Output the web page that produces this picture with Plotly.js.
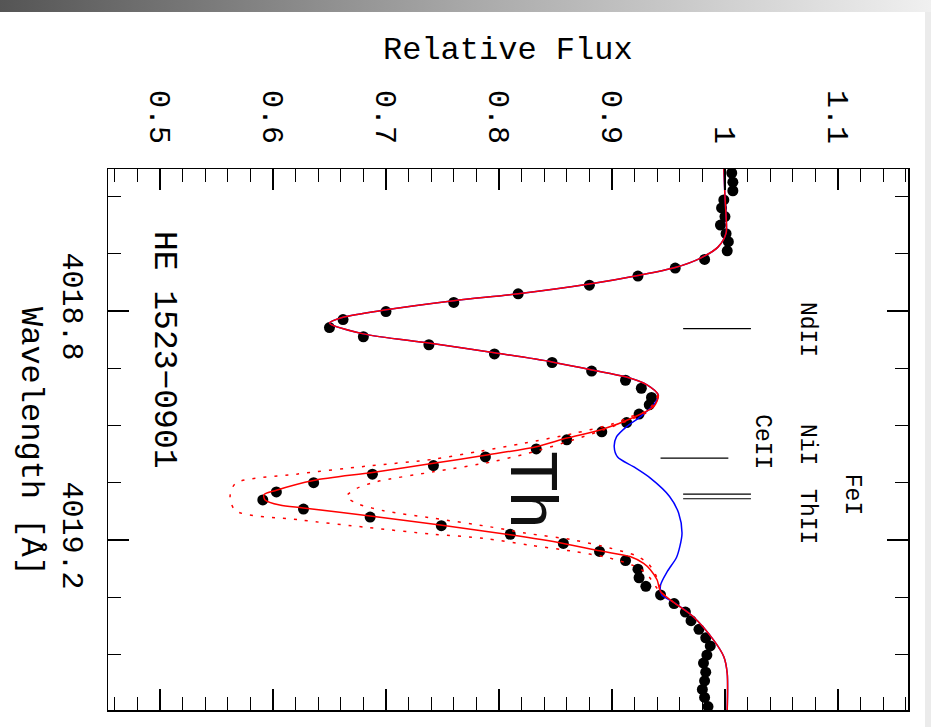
<!DOCTYPE html>
<html>
<head>
<meta charset="utf-8">
<script src="https://cdn.plot.ly/plotly-3.0.1.min.js"></script>
<style>
  html, body { margin: 0; padding: 0; background: #fff; }
  #chart { width: 931px; height: 727px; }
</style>
</head>
<body>
<div id="chart"></div>
<script>
// Observed spectrum of HE 1523-0901 around the Th II 4019 line
const obsWave = [4018.559, 4018.575, 4018.590, 4018.606, 4018.620, 4018.635, 4018.650, 4018.665, 4018.679, 4018.695,
  4018.710, 4018.725, 4018.739, 4018.755, 4018.770, 4018.785, 4018.801, 4018.815, 4018.829, 4018.845,
  4018.859, 4018.875, 4018.890, 4018.905, 4018.921, 4018.935, 4018.951, 4018.964, 4018.980, 4018.995,
  4019.011, 4019.025, 4019.041, 4019.055, 4019.070, 4019.085, 4019.100, 4019.116, 4019.130, 4019.146,
  4019.160, 4019.175, 4019.190, 4019.206, 4019.220, 4019.236, 4019.251, 4019.266, 4019.281, 4019.296,
  4019.311, 4019.326, 4019.341, 4019.356, 4019.371, 4019.385, 4019.401, 4019.415, 4019.431, 4019.446,
  4019.461, 4019.475, 4019.491];
const obsFlux = [1.006, 1.007, 1.007, 0.999, 0.997, 1.000, 0.996, 1.001, 1.003, 1.002,
  0.982, 0.956, 0.923, 0.880, 0.817, 0.760, 0.700, 0.662, 0.650, 0.680,
  0.738, 0.796, 0.847, 0.882, 0.912, 0.926, 0.935, 0.933, 0.924, 0.913,
  0.891, 0.860, 0.833, 0.788, 0.742, 0.688, 0.636, 0.603, 0.591, 0.627,
  0.686, 0.749, 0.810, 0.857, 0.889, 0.912, 0.923, 0.924, 0.930, 0.943,
  0.955, 0.965, 0.970, 0.977, 0.983, 0.987, 0.984, 0.981, 0.983, 0.982,
  0.980, 0.982, 0.985];

// Best-fit synthetic spectrum
const fitWave = [4018.550, 4018.600, 4018.635, 4018.664, 4018.688, 4018.708, 4018.724, 4018.738, 4018.753, 4018.770,
  4018.782, 4018.798, 4018.811, 4018.821, 4018.840, 4018.856, 4018.873, 4018.889, 4018.903, 4018.915,
  4018.929, 4018.947, 4018.967, 4018.986, 4019.007, 4019.022, 4019.037, 4019.052, 4019.066, 4019.082,
  4019.096, 4019.113, 4019.121, 4019.130, 4019.139, 4019.144, 4019.158, 4019.174, 4019.191, 4019.206,
  4019.219, 4019.229, 4019.241, 4019.252, 4019.270, 4019.290, 4019.308, 4019.334, 4019.375, 4019.404,
  4019.433, 4019.497];
const fitFlux = [0.999, 1.000, 1.001, 1.001, 0.994, 0.978, 0.956, 0.923, 0.880, 0.817,
  0.760, 0.700, 0.662, 0.650, 0.680, 0.738, 0.796, 0.847, 0.882, 0.912,
  0.931, 0.941, 0.937, 0.919, 0.891, 0.860, 0.833, 0.788, 0.742, 0.688,
  0.636, 0.603, 0.592, 0.593, 0.606, 0.627, 0.686, 0.748, 0.810, 0.857,
  0.889, 0.916, 0.928, 0.934, 0.940, 0.943, 0.954, 0.972, 0.990, 0.999,
  1.002, 1.002];

// Synthesis without thorium (only where it departs from the fit)
const noThWave = [4018.961, 4018.985, 4019.002, 4019.020, 4019.037, 4019.055, 4019.072, 4019.092,
  4019.124, 4019.153, 4019.188, 4019.212, 4019.231, 4019.255, 4019.279, 4019.296];
const noThFlux = [0.938, 0.925, 0.913, 0.904, 0.902, 0.905, 0.919, 0.934,
  0.951, 0.959, 0.962, 0.960, 0.957, 0.949, 0.943, 0.944];

// Synthesis with a higher thorium abundance
const hiThWave = [4018.947, 4018.973, 4018.985, 4018.997, 4019.014, 4019.031, 4019.045, 4019.059, 4019.071,
  4019.085, 4019.101, 4019.125, 4019.149, 4019.165, 4019.178, 4019.190, 4019.197, 4019.209, 4019.220,
  4019.231, 4019.244, 4019.256, 4019.270, 4019.287, 4019.308];
const hiThFlux = [0.941, 0.932, 0.916, 0.901, 0.866, 0.822, 0.783, 0.742, 0.683,
  0.621, 0.567, 0.562, 0.567, 0.624, 0.683, 0.742, 0.786, 0.827, 0.866,
  0.897, 0.918, 0.929, 0.935, 0.941, 0.954];

// Synthesis with a lower thorium abundance
const loThWave = [4018.947, 4018.973, 4018.990, 4019.008, 4019.025, 4019.043, 4019.063, 4019.081, 4019.098,
  4019.110, 4019.124, 4019.136, 4019.149, 4019.162, 4019.177, 4019.188, 4019.200, 4019.214, 4019.228,
  4019.241, 4019.258, 4019.279, 4019.296];
const loThFlux = [0.941, 0.934, 0.916, 0.892, 0.866, 0.836, 0.795, 0.742, 0.692,
  0.674, 0.665, 0.674, 0.698, 0.742, 0.792, 0.823, 0.866, 0.898, 0.922,
  0.932, 0.938, 0.942, 0.944];

// Line identification markers
const markWave = [4018.831, 4019.057, 4019.120, 4019.128];
const markFluxLo = [0.963, 0.943, 0.963, 0.963];
const markFluxHi = [1.023, 1.003, 1.023, 1.023];

const idLabels = ['NdII', 'NiI', 'CeII', 'FeI', 'ThII'];
const idWave = [4018.833, 4019.034, 4019.029, 4019.121, 4019.160];
const idFlux = [1.0726, 1.0726, 1.0327, 1.1124, 1.0726];

const fluxTicks = [0.5, 0.6, 0.7, 0.8, 0.9, 1.0, 1.1];
const waveTicks = [4018.8, 4019.2];

// Fit without Th: shared wings from the fit, own profile in the Th region
const blueWave = [], blueFlux = [];
fitWave.forEach((w, i) => { if (w < noThWave[0]) { blueWave.push(w); blueFlux.push(fitFlux[i]); } });
noThWave.forEach((w, i) => { blueWave.push(w); blueFlux.push(noThFlux[i]); });
fitWave.forEach((w, i) => { if (w > noThWave[noThWave.length - 1]) { blueWave.push(w); blueFlux.push(fitFlux[i]); } });

// Marker segments separated by gaps
const segX = [], segY = [];
markWave.forEach((w, i) => { segX.push(markFluxLo[i], markFluxHi[i], null); segY.push(w, w, null); });

const W = 931, H = 727;
const M = { l: 108, r: 23, t: 169, b: 17 };
const pw = W - M.l - M.r, ph = H - M.t - M.b;
const px = x => (x - M.l) / pw;
const py = y => (H - M.b - y) / ph;

const serif = 'Liberation Mono, Courier New, monospace';

const traces = [
  { type: 'scatter', mode: 'markers', x: obsFlux, y: obsWave,
    marker: { color: '#000', size: 11 }, hoverinfo: 'skip' },
  { type: 'scatter', mode: 'lines', x: blueFlux, y: blueWave,
    line: { color: '#0000ff', width: 1.5, shape: 'spline', smoothing: 0.8 }, hoverinfo: 'skip' },
  { type: 'scatter', mode: 'lines', x: hiThFlux, y: hiThWave,
    line: { color: '#ff0000', width: 1.5, dash: '3px,8px', shape: 'spline', smoothing: 0.8 }, hoverinfo: 'skip' },
  { type: 'scatter', mode: 'lines', x: loThFlux, y: loThWave,
    line: { color: '#ff0000', width: 1.5, dash: '3px,8px', shape: 'spline', smoothing: 0.8 }, hoverinfo: 'skip' },
  { type: 'scatter', mode: 'lines', x: fitFlux, y: fitWave,
    line: { color: '#ff0000', width: 1.5, shape: 'spline', smoothing: 0.8 }, hoverinfo: 'skip' },
  { type: 'scatter', mode: 'lines', x: segX, y: segY, connectgaps: false,
    line: { color: '#000', width: 1.2 }, hoverinfo: 'skip' }
];

const gradSvg = '<svg xmlns="http://www.w3.org/2000/svg" width="931" height="12" preserveAspectRatio="none">' +
  '<defs><linearGradient id="g" x1="0" x2="1" y1="0" y2="0">' +
  '<stop offset="0" stop-color="#555555"/><stop offset="0.5" stop-color="#a8a8a8"/>' +
  '<stop offset="1" stop-color="#f0f0f0"/></linearGradient></defs>' +
  '<rect width="931" height="12" fill="url(#g)"/></svg>';

const txt = (size) => ({ family: serif, size: size, color: '#000' });

const annotations = [
  { text: 'Relative Flux', xref: 'paper', yref: 'paper', x: px(508), y: py(50),
    xanchor: 'center', yanchor: 'middle', showarrow: false, font: txt(32) },
  { text: 'Wavelength [Å]', xref: 'paper', yref: 'paper', x: px(30), y: py(441), textangle: 90,
    xanchor: 'center', yanchor: 'middle', showarrow: false, font: txt(32) },
  { text: 'HE 1523\u22120901', xref: 'x', yref: 'y', x: 0.5027, y: 4018.868, textangle: 90,
    xanchor: 'center', yanchor: 'middle', showarrow: false, font: txt(33) },
  { text: 'Th', xref: 'x', yref: 'y', x: 0.831, y: 4019.113, textangle: 90,
    xanchor: 'center', yanchor: 'middle', showarrow: false,
    font: { family: 'Liberation Sans, Arial, sans-serif', size: 66, color: '#111' } }
];
idLabels.forEach((t, i) => annotations.push({
  text: t, xref: 'x', yref: 'y', x: idFlux[i], y: idWave[i], textangle: 90,
  xanchor: 'center', yanchor: 'middle', showarrow: false, font: txt(23)
}));

const layout = {
  width: W, height: H,
  margin: M,
  paper_bgcolor: '#fff', plot_bgcolor: '#fff',
  showlegend: false,
  xaxis: {
    side: 'top', range: [0.454, 1.162],
    tickmode: 'array', tickvals: fluxTicks, ticktext: fluxTicks.map(v => String(v)),
    tickangle: 90, ticks: 'inside', ticklen: 21, tickwidth: 1.2, tickcolor: '#000',
    ticklabelstandoff: 13,
    minor: { dtick: 0.02, tick0: 0.5, ticks: 'inside', ticklen: 13, tickwidth: 1.2, tickcolor: '#000' },
    showline: true, linecolor: '#000', linewidth: 1.5, mirror: 'ticks',
    showgrid: false, zeroline: false,
    tickfont: txt(30)
  },
  yaxis: {
    range: [4019.497, 4018.552],
    tickmode: 'array', tickvals: waveTicks, ticktext: waveTicks.map(v => v.toFixed(1)),
    tickangle: 90, ticks: 'inside', ticklen: 21, tickwidth: 1.2, tickcolor: '#000',
    ticklabelstandoff: 8,
    minor: { dtick: 0.1, tick0: 4018.8, ticks: 'inside', ticklen: 13, tickwidth: 1.2, tickcolor: '#000' },
    showline: true, linecolor: '#000', linewidth: 1.5, mirror: 'ticks',
    showgrid: false, zeroline: false,
    tickfont: txt(30)
  },
  annotations: annotations,
  shapes: [
    { type: 'rect', xref: 'paper', yref: 'paper', x0: px(925), x1: px(931), y0: py(727), y1: py(12),
      fillcolor: '#ebebeb', line: { width: 0 }, layer: 'below' }
  ],
  images: [
    { source: 'data:image/svg+xml;charset=utf-8,' + encodeURIComponent(gradSvg),
      xref: 'paper', yref: 'paper', x: px(0), y: py(0), sizex: 931 / pw, sizey: 12 / ph,
      sizing: 'stretch', xanchor: 'left', yanchor: 'top', layer: 'above' }
  ]
};

Plotly.newPlot('chart', traces, layout, { staticPlot: true, displayModeBar: false });
</script>
</body>
</html>
